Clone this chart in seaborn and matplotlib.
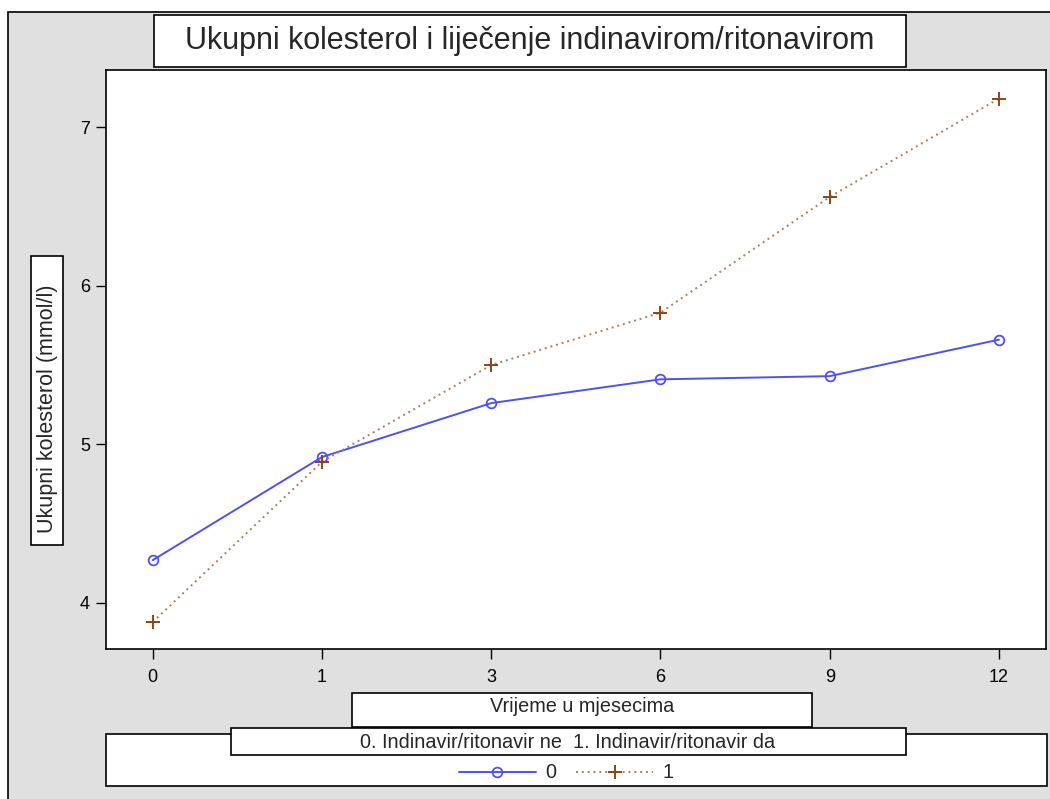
import numpy as np
import pandas as pd
import matplotlib
matplotlib.use('Agg')
import matplotlib.pyplot as plt
from matplotlib.patches import Rectangle
from matplotlib.lines import Line2D
import seaborn as sns

sns.set_style('white')
plt.rcParams['font.family'] = ['Liberation Sans', 'DejaVu Sans']

# data
months = ['0', '1', '3', '6', '9', '12']
chol_no = [4.27, 4.92, 5.26, 5.41, 5.43, 5.66]    # 0. Indinavir/ritonavir ne
chol_yes = [3.88, 4.89, 5.50, 5.83, 6.56, 7.18]   # 1. Indinavir/ritonavir da
groups = ['0', '1']
yticks = [4, 5, 6, 7]

df = pd.DataFrame({
    'month': months * 2,
    'chol': chol_no + chol_yes,
    'group': ['0'] * len(months) + ['1'] * len(months),
})

W, H = 1050, 799
fig = plt.figure(figsize=(W / 100, H / 100), dpi=100, facecolor='white')

def box(x0, y0, x1, y1, fc='white', lw=1.2, z=0):
    # pixel coords (top-left origin) -> figure fraction
    r = Rectangle((x0 / W, 1 - y1 / H), (x1 - x0) / W, (y1 - y0) / H,
                  transform=fig.transFigure, facecolor=fc, edgecolor='black',
                  linewidth=lw, zorder=z)
    fig.patches.append(r)

# outer gray frame
box(8, 12, 1070, 820, fc='#e0e0e0', z=-2)

ax = fig.add_axes([106 / W, 1 - 649 / H, (1046 - 106) / W, (649 - 70) / H])
ax.set_zorder(1)
ax.set_facecolor('white')

blue = '#5050f0'
brown = '#8b4513'
dotc = '#a88060'
d0 = df[df['group'] == '0']
d1 = df[df['group'] == '1']
sns.lineplot(data=d0, x='month', y='chol', ax=ax, color=blue, lw=1.4,
             marker='o', markersize=7, markerfacecolor='none',
             markeredgecolor=blue, markeredgewidth=1.3, sort=False)
sns.lineplot(data=d1, x='month', y='chol', ax=ax, color=dotc, lw=1.4,
             linestyle=(0, (1, 2)), marker='+', markersize=10,
             markeredgecolor=brown, markeredgewidth=1.4, sort=False)

ax.set_xlim(-0.276, 5.278)
ax.set_ylim(3.71, 7.36)
ax.set_yticks(yticks)
ax.set_yticklabels([str(v) for v in yticks])
ax.set_xlabel('')
ax.set_ylabel('')
ax.tick_params(axis='both', direction='out', length=7.5, width=1,
               labelsize=13, colors='black', left=True, bottom=True)
ax.tick_params(axis='x', pad=7)
ax.tick_params(axis='y', pad=4)
for s in ax.spines.values():
    s.set_visible(True)
    s.set_color('black')
    s.set_linewidth(1.2)
if ax.get_legend():
    ax.get_legend().remove()

# title box
box(154, 15, 906, 67, z=2)
fig.text(530 / W, 1 - 41 / H, 'Ukupni kolesterol i liječenje indinavirom/ritonavirom',
         ha='center', va='center', fontsize=22, zorder=3)

# y label box
box(31, 256, 63, 545, z=2)
fig.text(48 / W, 1 - 409 / H, 'Ukupni kolesterol (mmol/l)', rotation=90,
         ha='center', va='center', fontsize=15.5, zorder=3)

# x label box
box(352, 693, 812, 727, z=2)
fig.text(582 / W, 1 - 706 / H, 'Vrijeme u mjesecima', ha='center', va='center',
         fontsize=14.3, zorder=3)

# legend boxes
box(106, 734, 1047, 786, z=2)
box(231, 728, 906, 755, z=2)
fig.text(568 / W, 1 - 742 / H, '0. Indinavir/ritonavir ne  1. Indinavir/ritonavir da',
         ha='center', va='center', fontsize=14.3, zorder=3)

handles = [
    Line2D([], [], color=blue, lw=1.4, marker='o', markersize=7,
           markerfacecolor='none', markeredgecolor=blue, markeredgewidth=1.3),
    Line2D([], [], color=dotc, lw=1.4, linestyle=(0, (1, 2)), marker='+',
           markersize=10, markeredgecolor=brown, markeredgewidth=1.4),
]
leg = fig.legend(handles, groups, loc='center', bbox_to_anchor=(566 / W, 1 - 773 / H),
                 ncol=2, frameon=False, fontsize=14.3, handlelength=3.9,
                 handletextpad=0.45, columnspacing=1.0)
leg.set_zorder(4)

fig.savefig('out.png', dpi=100, facecolor=fig.get_facecolor())
